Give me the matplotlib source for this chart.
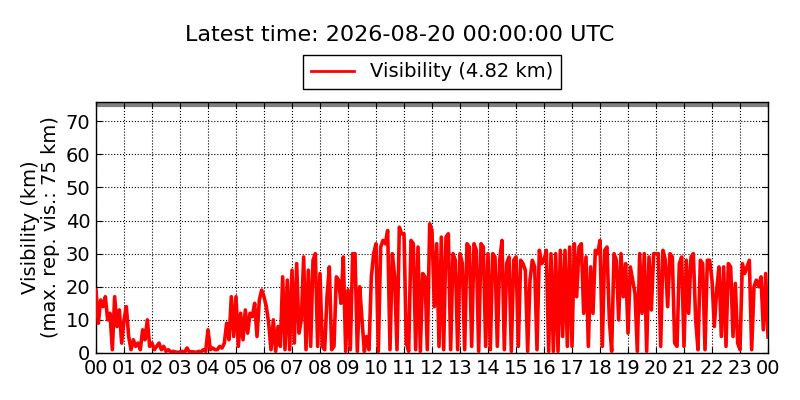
import numpy as np
import matplotlib
matplotlib.use('Agg')
import matplotlib.pyplot as plt

# visibility in km, one value every 5 minutes
vis_00_06 = [
    19, 9, 16, 14, 17, 10, 12, 1, 17, 8, 13, 3,
    10, 14, 5, 1, 4, 2, 3, 1, 7, 4, 10, 2,
    3, 1, 2, 3, 1, 2, 0.5, 1, 0.3, 0.5, 0.3, 0.2,
    0.3, 0.5, 0.2, 1.5, 0.3, 0.4, 0.3, 0.2, 0.5, 0.3, 1, 0.5,
    7, 1, 1.5, 1, 1, 2, 1.5, 3, 9, 4, 17, 5,
    17, 2, 12, 4, 13, 6, 12, 11, 15, 5, 16, 19,
]
vis_06_12 = [
    17, 14, 9, 1, 10, 0.5, 8, 2, 23, 1, 22, 1,
    25, 3, 27, 6, 10, 29, 1, 25, 2, 28, 30, 2,
    24, 2, 1, 17, 26, 1, 2, 23, 22, 15, 29, 0.5,
    19, 1, 30, 30, 0.5, 20, 10, 0.5, 5, 1, 23, 30,
    33, 0.5, 32, 34, 33, 37, 1, 30, 23, 1, 38, 36,
    36, 3, 0.5, 34, 33, 1, 32, 0.5, 24, 23, 1, 39,
]
vis_12_18 = [
    37, 14, 33, 2, 35, 1, 35, 36, 1, 30, 28, 1,
    30, 27, 1, 33, 32, 2, 33, 31, 0.5, 33, 32, 2,
    30, 1, 30, 29, 2, 28, 34, 1, 27, 29, 0.5, 28,
    29, 2, 28, 27, 25, 0.5, 22, 28, 26, 1, 31, 27,
    28, 31, 0.5, 30, 0.5, 30, 0.5, 31, 5, 31, 2, 32,
    2, 33, 17, 32, 33, 12, 29, 2, 26, 12, 31, 30,
]
vis_18_24 = [
    34, 2, 31, 32, 10, 0.5, 30, 28, 10, 30, 17, 27,
    6, 26, 22, 18, 0.5, 30, 12, 30, 0.5, 29, 13, 30,
    30, 30, 2, 31, 28, 14, 30, 29, 3, 2, 27, 29,
    2, 28, 12, 29, 30, 10, 1, 28, 27, 1, 28, 28,
    22, 8, 19, 26, 5, 26, 2, 27, 26, 5, 21, 3,
    1, 27, 24, 26, 28, 1, 20, 22, 20, 23, 7, 24, 4.82,
]
hour_labels = ['%02d' % h for h in range(24)] + ['00']
max_vis = 75
latest = vis_18_24[-1]

vis = np.array(vis_00_06 + vis_06_12 + vis_12_18 + vis_18_24)
hours = np.arange(len(vis)) * 5 / 60.0

fig = plt.figure(figsize=(8, 4), dpi=100)
ax = fig.add_axes([0.12, 0.1175, 0.84, 0.6275])

ax.axhline(max_vis, color='gray', lw=3, zorder=1)
ax.plot(hours, vis, color='red', lw=2.6, label='Visibility (%.2f km)' % latest, zorder=3)

ax.set_xlim(0, 24)
ax.set_ylim(0, 75.8)
ax.set_xticks(range(25))
ax.set_xticklabels(hour_labels)
ax.set_yticks(range(0, 71, 10))
ax.tick_params(direction='in', top=True, right=True, labelsize=14, length=4, pad=4)
ax.grid(True, color='black', linestyle=':', lw=0.8)
for s in ax.spines.values():
    s.set_linewidth(1.0)

ax.set_ylabel('Visibility (km)\n(max. rep. vis.: 75 km)', fontsize=14, linespacing=1.1)
fig.suptitle('Latest time: 2026-08-20 00:00:00 UTC', fontsize=16, y=0.937)
leg = ax.legend(loc='lower center', bbox_to_anchor=(0.5, 1.012), fontsize=14,
                fancybox=False, edgecolor='black', framealpha=1, handlelength=2.2)
leg.get_frame().set_linewidth(1.0)
leg.get_lines()[0].set_linewidth(2)

fig.savefig('out.png', dpi=100, facecolor='white')
